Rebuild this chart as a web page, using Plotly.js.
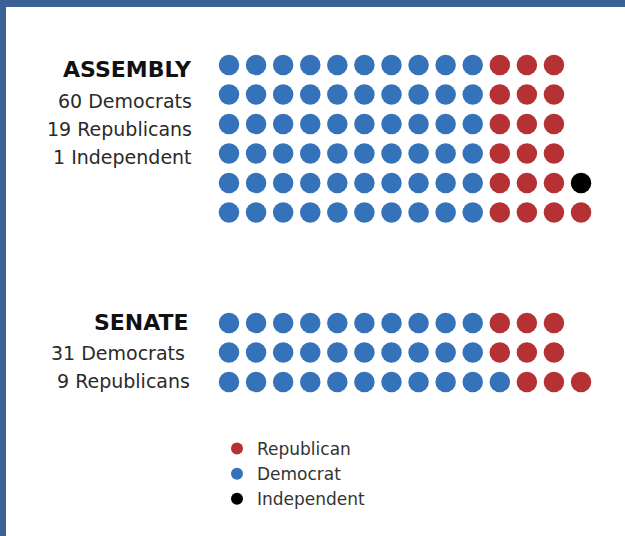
<!DOCTYPE html>
<html>
<head>
<meta charset="utf-8">
<script src="https://cdn.plot.ly/plotly-3.0.1.min.js"></script>
<style>
  html, body { margin: 0; padding: 0; background: #ffffff; }
  #chart { width: 625px; height: 536px; }
</style>
</head>
<body>
<div id="chart"></div>
<script>
// ---- data ----
const partyNames = ['Republican', 'Democrat', 'Independent'];
const assemblyDemByRow = [10, 10, 10, 10, 10, 10];
const assemblyRepByRow = [3, 3, 3, 3, 3, 4];
const assemblyIndByRow = [0, 0, 0, 0, 1, 0];
const senateDemByRow = [10, 10, 11];
const senateRepByRow = [3, 3, 3];
const senateIndByRow = [0, 0, 0];
const assemblyLabels = ['ASSEMBLY', '60 Democrats', '19 Republicans', '1 Independent'];
const senateLabels = ['SENATE', '31 Democrats', '9 Republicans'];

// ---- styles ----
const colors = { Republican: '#B63133', Democrat: '#3473BA', Independent: '#000000' };
const W = 625, H = 536;
const senateRowOffset = 8.75;

// build seat positions (column index, row index) from the counts
const pts = { Republican: { x: [], y: [] }, Democrat: { x: [], y: [] }, Independent: { x: [], y: [] } };
function addChamber(dem, rep, ind, rowOffset) {
  for (let r = 0; r < dem.length; r++) {
    let c = 0;
    const groups = [['Democrat', dem[r]], ['Republican', rep[r]], ['Independent', ind[r]]];
    for (const [p, n] of groups) {
      for (let k = 0; k < n; k++) {
        pts[p].x.push(c);
        pts[p].y.push(rowOffset + r);
        c++;
      }
    }
  }
}
addChamber(assemblyDemByRow, assemblyRepByRow, assemblyIndByRow, 0);
addChamber(senateDemByRow, senateRepByRow, senateIndByRow, senateRowOffset);

const traces = partyNames.map((p, i) => ({
  type: 'scatter',
  mode: 'markers',
  name: p,
  legendgroup: 'g' + i,
  x: pts[p].x,
  y: pts[p].y,
  marker: { color: colors[p], size: 20.5, line: { width: 0 } },
  hoverinfo: 'skip'
}));

// pixel -> paper helpers
const px = v => v / W;
const py = v => 1 - v / H;

const labelFont = { family: 'DejaVu Sans', size: 19, color: '#2a2a2a' };
const titleFont = { family: 'DejaVu Sans', size: 22, color: '#111111', weight: 700 };

const annotations = [];
const asmY = [69, 101, 129, 157];
const asmX = [194, 194, 194, 194];
assemblyLabels.forEach((t, i) => annotations.push({
  xref: 'paper', yref: 'paper', x: px(asmX[i]), y: py(asmY[i]),
  xanchor: 'right', yanchor: 'middle', showarrow: false, text: t,
  font: i === 0 ? titleFont : labelFont
}));
const senY = [322, 353, 381];
const senX = [191, 187, 192];
senateLabels.forEach((t, i) => annotations.push({
  xref: 'paper', yref: 'paper', x: px(senX[i]), y: py(senY[i]),
  xanchor: 'right', yanchor: 'middle', showarrow: false, text: t,
  font: i === 0 ? titleFont : labelFont
}));

// axis ranges: column 0 -> 229px, spacing 27.08px; row 0 -> 65px, spacing 29.5px
const cx0 = 229, cdx = 27.08, ry0 = 65, rdy = 29.5;
const layout = {
  width: W, height: H,
  margin: { l: 0, r: 0, t: 0, b: 0, pad: 0 },
  paper_bgcolor: '#ffffff', plot_bgcolor: '#ffffff',
  xaxis: { range: [-cx0 / cdx, (W - cx0) / cdx], visible: false, fixedrange: true },
  yaxis: { range: [(H - ry0) / rdy, -ry0 / rdy], visible: false, fixedrange: true },
  showlegend: true,
  legend: {
    x: px(217), y: py(431), xanchor: 'left', yanchor: 'top',
    bgcolor: 'rgba(0,0,0,0)', borderwidth: 0,
    itemsizing: 'constant', tracegroupgap: 4,
    font: { family: 'DejaVu Sans', size: 17, color: '#333333' },
    traceorder: 'normal'
  },
  annotations: annotations,
  shapes: [
    { type: 'rect', xref: 'paper', yref: 'paper', x0: 0, x1: 1, y0: py(7), y1: 1, fillcolor: '#3C6194', line: { width: 0 }, layer: 'above' },
    { type: 'rect', xref: 'paper', yref: 'paper', x0: 0, x1: px(6), y0: 0, y1: 1, fillcolor: '#3C6194', line: { width: 0 }, layer: 'above' }
  ]
};

Plotly.newPlot('chart', traces, layout, { displayModeBar: false, staticPlot: true });
</script>
</body>
</html>
